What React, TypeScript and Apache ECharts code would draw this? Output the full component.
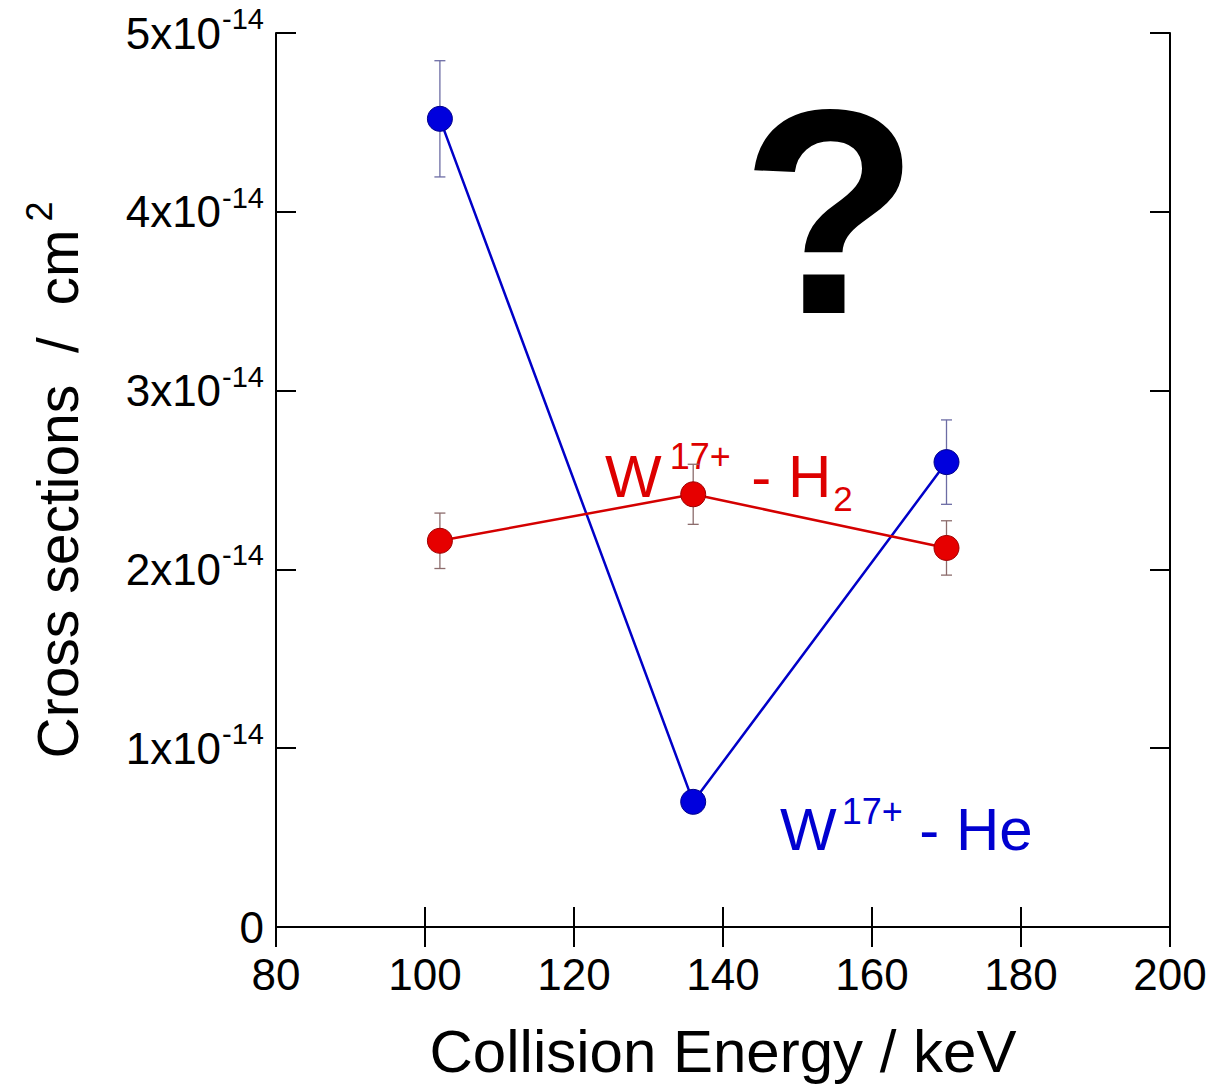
import React, { useEffect, useRef } from "react";
import * as echarts from "echarts";

// Collision energies (keV)
const energies = [102, 136, 170];
// Cross sections in units of 1e-14 cm^2
const heValues = [4.52, 0.7, 2.6];
const heErrors = [0.325, 0.05, 0.236];
const h2Values = [2.16, 2.42, 2.12];
const h2Errors = [0.155, 0.168, 0.152];
// Axis ranges / ticks
const xMin = 80;
const xMax = 200;
const xStep = 20;
const yMin = 0;
const yMax = 5;
const yStep = 1;
const yExponent = "-14";

const FONT = "'Liberation Sans', Arial, Helvetica, sans-serif";
const BLUE_LINE = "#0000c8";
const BLUE_FILL = "#0000dd";
const RED_LINE = "#d40000";
const RED_FILL = "#e60000";
const NB = "\u00a0";

function errorBarSeries(values: number[], errors: number[], color: string) {
  return {
    type: "custom",
    z: 2,
    silent: true,
    data: energies.map((x, i) => [x, values[i], errors[i]]),
    encode: { x: 0, y: 1 },
    renderItem: (params: any, api: any) => {
      const x = api.value(0);
      const y = api.value(1);
      const e = api.value(2);
      const top = api.coord([x, y + e]);
      const bot = api.coord([x, y - e]);
      const hw = 5.5;
      const style = { stroke: color, lineWidth: 1.3 };
      return {
        type: "group",
        children: [
          { type: "line", shape: { x1: top[0], y1: top[1], x2: bot[0], y2: bot[1] }, style },
          { type: "line", shape: { x1: top[0] - hw, y1: top[1], x2: top[0] + hw, y2: top[1] }, style },
          { type: "line", shape: { x1: bot[0] - hw, y1: bot[1], x2: bot[0] + hw, y2: bot[1] }, style },
        ],
      };
    },
  };
}

export default function App() {
  const ref = useRef<HTMLDivElement>(null);
  useEffect(() => {
    if (!ref.current) return;
    const chart = echarts.init(ref.current, null, { renderer: "svg" });
    const axisLine = { show: true, lineStyle: { color: "#000", width: 2 } };
    const axisTick = { show: true, inside: true, length: 20, lineStyle: { color: "#000", width: 2 } };
    chart.setOption({
      animation: false,
      backgroundColor: "#fff",
      textStyle: { fontFamily: FONT },
      grid: { left: 276, top: 33, right: 44, bottom: 158, containLabel: false },
      xAxis: [
        {
          type: "value",
          min: xMin,
          max: xMax,
          interval: xStep,
          position: "bottom",
          axisLine,
          axisTick,
          splitLine: { show: false },
          axisLabel: { fontSize: 44, color: "#000", margin: 25, fontFamily: FONT },
          name: "Collision Energy / keV",
          nameLocation: "middle",
          nameGap: 94,
          nameTextStyle: { fontSize: 60, color: "#000", fontFamily: FONT },
        },
        {
          type: "value",
          min: xMin,
          max: xMax,
          interval: xStep,
          position: "top",
          axisLine,
          axisTick,
          splitLine: { show: false },
          axisLabel: { show: false },
        },
      ],
      yAxis: [
        {
          type: "value",
          min: yMin,
          max: yMax,
          interval: yStep,
          position: "left",
          axisLine,
          axisTick,
          splitLine: { show: false },
          axisLabel: {
            margin: 12,
            color: "#000",
            fontSize: 44,
            fontFamily: FONT,
            formatter: (v: number) => (v === 0 ? "{b|0}" : `{b|${v}x10}{s|${yExponent}}`),
            rich: {
              b: { fontSize: 44, color: "#000", fontFamily: FONT },
              s: { fontSize: 29, color: "#000", fontFamily: FONT, padding: [0, 0, 28, 1] },
            },
          },
          name: `{n|Cross sections${NB}${NB}/${NB}${NB}cm}{s|2}`,
          nameLocation: "middle",
          nameGap: 181,
          nameTextStyle: {
            color: "#000",
            fontFamily: FONT,
            rich: {
              n: { fontSize: 57, color: "#000", fontFamily: FONT },
              s: { fontSize: 36, color: "#000", fontFamily: FONT, padding: [0, 0, 38, 8] },
            },
          },
        },
        {
          type: "value",
          min: yMin,
          max: yMax,
          interval: yStep,
          position: "right",
          axisLine,
          axisTick,
          splitLine: { show: false },
          axisLabel: { show: false },
        },
      ],
      series: [
        errorBarSeries(heValues, heErrors, "#6c6ca4"),
        errorBarSeries(h2Values, h2Errors, "#8c6c6c"),
        {
          type: "line",
          name: "W17+ - He",
          z: 3,
          data: energies.map((x, i) => [x, heValues[i]]),
          symbol: "circle",
          symbolSize: 25,
          lineStyle: { color: BLUE_LINE, width: 2.5 },
          itemStyle: { color: BLUE_FILL, borderColor: "#00008a", borderWidth: 1 },
        },
        {
          type: "line",
          name: "W17+ - H2",
          z: 3,
          data: energies.map((x, i) => [x, h2Values[i]]),
          symbol: "circle",
          symbolSize: 25,
          lineStyle: { color: RED_LINE, width: 2.5 },
          itemStyle: { color: RED_FILL, borderColor: "#a00000", borderWidth: 1 },
        },
      ],
      graphic: [
        {
          type: "text",
          x: 830,
          y: 212,
          style: {
            text: "?",
            fontSize: 292,
            fontWeight: "bold",
            fontFamily: FONT,
            fill: "#000",
            align: "center",
            verticalAlign: "middle",
          },
        },
        {
          type: "text",
          x: 605,
          y: 476,
          style: {
            text: "{m|W}{p|17+}{m| - H}{d|2}",
            align: "left",
            verticalAlign: "middle",
            fill: "#dd0000",
            rich: {
              m: { fontSize: 60, fill: "#dd0000", fontFamily: FONT },
              p: { fontSize: 36, fill: "#dd0000", fontFamily: FONT, padding: [0, 4, 40, 8] },
              d: { fontSize: 35, fill: "#dd0000", fontFamily: FONT, padding: [45, 0, 0, 2] },
            },
          },
        },
        {
          type: "text",
          x: 780,
          y: 829,
          style: {
            text: "{m|W}{p|17+}{m| - He}",
            align: "left",
            verticalAlign: "middle",
            fill: "#0000d0",
            rich: {
              m: { fontSize: 60, fill: "#0000d0", fontFamily: FONT },
              p: { fontSize: 36, fill: "#0000d0", fontFamily: FONT, padding: [0, 0, 36, 5] },
            },
          },
        },
      ],
    });
    return () => chart.dispose();
  }, []);
  return (
    <div
      ref={ref}
      style={{ position: "fixed", left: 0, top: 0, width: 1214, height: 1086, background: "#fff" }}
    />
  );
}
